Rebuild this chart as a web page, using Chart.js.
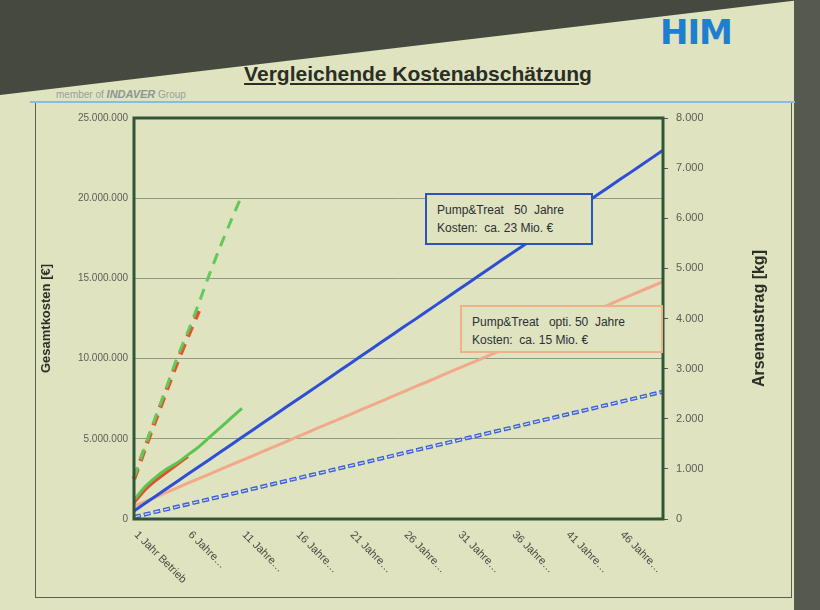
<!DOCTYPE html>
<html>
<head>
<meta charset="utf-8">
<script src="https://cdn.jsdelivr.net/npm/chart.js@4.4.1/dist/chart.umd.min.js"></script>
<style>
  html, body { margin: 0; padding: 0; width: 820px; height: 610px; overflow: hidden; background: #dfe3bf; font-family: "Liberation Sans", Arial, sans-serif; }
  #ceiling { position: absolute; left: 0; top: 0; width: 820px; height: 100px; background: #45493f; clip-path: polygon(0 0, 800px 0, 0 95px); }
  #edge { position: absolute; right: 0; top: 0; width: 26px; height: 610px; background: #55594e; }
  #logo { position: absolute; left: 660px; top: 12px; font-family: "DejaVu Sans", sans-serif; font-weight: bold; font-size: 34px; letter-spacing: -1px; color: #1e7fd1; }
  #title { position: absolute; left: 0; width: 836px; top: 62px; text-align: center; font-weight: bold; font-size: 21px; color: #2a2e25; text-decoration: underline; }
  #member { position: absolute; left: 56px; top: 88px; font-size: 10px; color: #9aa09a; }
  #member b { font-style: italic; color: #8c9694; font-size: 11px; }
  #headline { position: absolute; left: 30px; top: 101px; width: 765px; height: 0; border-top: 2px solid #8dbbd8; }
  #frame { position: absolute; left: 35px; top: 103px; width: 755px; height: 494px; border: 1px solid #56604f; border-top: none; }
  canvas { position: absolute; left: 0; top: 0; }
  .box { position: absolute; background: #dfe3bf; font-size: 12px; line-height: 18px; color: #2b2f36; white-space: pre; padding: 6px 10px; box-sizing: border-box; }
  #box1 { left: 425px; top: 193px; width: 168px; height: 52px; border: 2px solid #2d55b5; }
  #box2 { left: 460px; top: 305px; width: 203px; height: 48px; border: 2px solid #f0b08a; }
</style>
</head>
<body>
<div id="ceiling"></div>
<div id="edge"></div>
<div id="logo">HIM</div>
<div id="title">Vergleichende Kostenabschätzung</div>
<div id="member">member of <b>INDAVER</b> Group</div>
<div id="headline"></div>
<div id="frame"></div>
<canvas id="chart" width="820" height="610"></canvas>
<div class="box" id="box1">Pump&amp;Treat   50  Jahre
Kosten:  ca. 23 Mio. €</div>
<div class="box" id="box2">Pump&amp;Treat   opti. 50  Jahre
Kosten:  ca. 15 Mio. €</div>

<script>
// ---- data (costs in Mio. €, Arsenaustrag in kg) ----
const years = Array.from({ length: 50 }, (_, i) => i + 1);
const tickEvery = 5;
const tickLabels = ['1 Jahr Betrieb', '6 Jahre…', '11 Jahre…', '16 Jahre…', '21 Jahre…',
                    '26 Jahre…', '31 Jahre…', '36 Jahre…', '41 Jahre…', '46 Jahre…'];

// Pump&Treat 50 Jahre - Kosten (blue solid)
const costPT = [0.50, 0.96, 1.42, 1.88, 2.34, 2.80, 3.25, 3.71, 4.17, 4.63,
                5.09, 5.55, 6.01, 6.47, 6.93, 7.39, 7.84, 8.30, 8.76, 9.22,
                9.68, 10.14, 10.60, 11.06, 11.52, 11.98, 12.43, 12.89, 13.35, 13.81,
                14.27, 14.73, 15.19, 15.65, 16.11, 16.57, 17.02, 17.48, 17.94, 18.40,
                18.86, 19.32, 19.78, 20.24, 20.70, 21.16, 21.61, 22.07, 22.53, 22.99];

// Pump&Treat opti. 50 Jahre - Kosten (salmon solid)
const costOpti = [0.80, 1.09, 1.37, 1.66, 1.94, 2.23, 2.51, 2.80, 3.09, 3.37,
                  3.66, 3.94, 4.23, 4.51, 4.80, 5.09, 5.37, 5.66, 5.94, 6.23,
                  6.51, 6.80, 7.09, 7.37, 7.66, 7.94, 8.23, 8.51, 8.80, 9.09,
                  9.37, 9.66, 9.94, 10.23, 10.51, 10.80, 11.09, 11.37, 11.66, 11.94,
                  12.23, 12.51, 12.80, 13.09, 13.37, 13.66, 13.94, 14.23, 14.51, 14.80];

// short alternatives - Kosten
const costGreen = [1.2, 2.0, 2.6, 3.1, 3.5, 4.0, 4.5, 5.1, 5.7, 6.3, 6.9];
const costRed = [1.0, 1.8, 2.4, 2.9, 3.4, 3.9];

// Arsenaustrag [kg]
const arsenPT = [40, 91, 142, 193, 244, 295, 346, 397, 448, 499,
                 550, 601, 652, 703, 754, 805, 856, 907, 958, 1009,
                 1060, 1111, 1162, 1213, 1264, 1315, 1366, 1417, 1468, 1519,
                 1570, 1621, 1672, 1723, 1774, 1825, 1876, 1927, 1978, 2029,
                 2080, 2131, 2182, 2233, 2284, 2335, 2386, 2437, 2488, 2539];
const arsenGreen = [830, 1430, 2040, 2620, 3220, 3740, 4300, 4890, 5440, 5960, 6460];
const arsenRed = [800, 1400, 1980, 2560, 3130, 3650, 4150];

// thousands with dots, German style
function fmt(v) {
  return String(Math.round(v)).replace(/\B(?=(\d{3})+(?!\d))/g, '.');
}

Chart.defaults.font.family = '"Liberation Sans", Arial, sans-serif';

// plot frame, rotated x labels and right axis title
const decorations = {
  id: 'decorations',
  afterDraw(chart) {
    const { ctx, chartArea: a, scales: { x } } = chart;
    ctx.save();
    ctx.strokeStyle = '#2e5637';
    ctx.lineWidth = 3;
    ctx.strokeRect(a.left, a.top, a.right - a.left, a.bottom - a.top);

    ctx.font = '11px "Liberation Sans", Arial, sans-serif';
    ctx.fillStyle = '#494d45';
    ctx.textAlign = 'left';
    ctx.textBaseline = 'middle';
    tickLabels.forEach((t, k) => {
      const px = x.getPixelForValue(k * tickEvery);
      ctx.save();
      ctx.translate(px + 2, a.bottom + 14);
      ctx.rotate(Math.PI / 4);
      ctx.fillText(t, 0, 0);
      ctx.restore();
    });

    ctx.font = 'bold 16px "Liberation Sans", Arial, sans-serif';
    ctx.fillStyle = '#2b3027';
    ctx.textAlign = 'center';
    ctx.translate(760, (a.top + a.bottom) / 2);
    ctx.rotate(-Math.PI / 2);
    ctx.fillText('Arsenaustrag [kg]', 0, 0);
    ctx.restore();
  }
};

const line = (label, data, color, width, axis, extra) => Object.assign({
  label, data, borderColor: color, borderWidth: width, yAxisID: axis,
  pointRadius: 0, fill: false, tension: 0
}, extra || {});

new Chart(document.getElementById('chart'), {
  type: 'line',
  data: {
    labels: years,
    datasets: [
      line('Arsenaustrag Variante', arsenGreen, '#62c95b', 3, 'y1', { borderDash: [11, 8], tension: 0.2 }),
      line('Arsenaustrag Variante 2', arsenRed, '#e0552e', 4.5, 'y1', { borderDash: [11, 8], tension: 0.2 }),
      line('Kosten Variante', costGreen, '#5bc552', 3, 'y', { tension: 0.2 }),
      line('Kosten Variante 2', costRed, '#e0502e', 3, 'y', { tension: 0.2 }),
      line('Pump&Treat 50 Jahre', costPT, '#2d4fd6', 3, 'y'),
      line('Pump&Treat opti. 50 Jahre', costOpti, '#f2a98a', 3, 'y'),
      line('Arsenaustrag Pump&Treat', arsenPT, '#d9e0ee', 1.2, 'y1', { borderDash: [5, 5], borderDashOffset: -1 }),
      line('Arsenaustrag Pump&Treat ', arsenPT, '#3a5fd8', 4, 'y1', { borderDash: [7, 3] })
    ]
  },
  options: {
    responsive: false,
    animation: false,
    layout: { padding: { left: 35, right: 117, top: 118, bottom: 31 } },
    plugins: { legend: { display: false }, tooltip: { enabled: false } },
    scales: {
      x: {
        offset: false,
        grid: { display: false },
        border: { display: false },
        ticks: { display: false },
        afterFit: s => { s.height = 60; }
      },
      y: {
        position: 'left',
        min: 0, max: 25,
        grid: { color: '#8c9a8a', lineWidth: 1, drawTicks: false },
        border: { display: false },
        ticks: { stepSize: 5, padding: 6, color: '#5a5e55', font: { size: 10 }, callback: v => fmt(v * 1e6) },
        title: { display: true, text: 'Gesamtkosten [€]', color: '#2b3027', font: { size: 13, weight: 'bold' } },
        afterFit: s => { s.width = 99; }
      },
      y1: {
        position: 'right',
        min: 0, max: 8000,
        grid: { drawOnChartArea: false, color: '#4c5a4c', tickLength: 5 },
        border: { display: false },
        ticks: { stepSize: 1000, padding: 8, color: '#5a5e55', font: { size: 11 }, callback: v => fmt(v) },
        afterFit: s => { s.width = 40; }
      }
    }
  },
  plugins: [decorations]
});
</script>
</body>
</html>
